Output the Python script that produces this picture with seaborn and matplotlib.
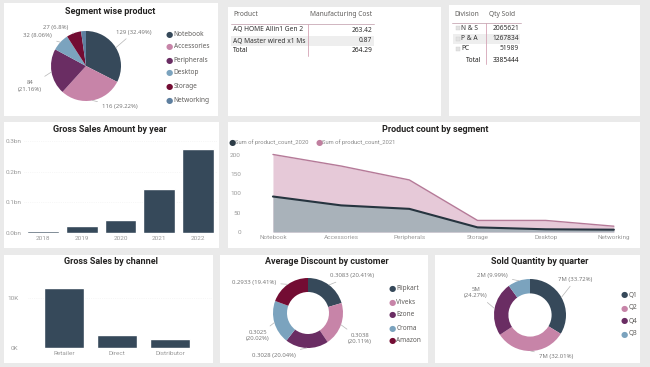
import numpy as np
import seaborn as sns
import matplotlib.pyplot as plt
from matplotlib.patches import Rectangle
from matplotlib.lines import Line2D

# ---- data ----
segments = ['Notebook', 'Accessories', 'Peripherals', 'Desktop', 'Storage', 'Networking']
segment_products = [129, 116, 84, 32, 27, 9]
segment_labels = ['129 (32.49%)', '116 (29.22%)', '84\n(21.16%)', '32 (8.06%)', '27 (6.8%)', '']

cost_products = ['AQ HOME Allin1 Gen 2', 'AQ Master wired x1 Ms']
cost_values = ['263.42', '0.87']
cost_total = '264.29'

divisions = ['N & S', 'P & A', 'PC']
qty_sold = ['2065621', '1267834', '51989']
qty_total = '3385444'

years = ['2018', '2019', '2020', '2021', '2022']
gross_sales_bn = [0.0075, 0.022, 0.041, 0.144, 0.274]

count_segments = ['Notebook', 'Accessories', 'Peripherals', 'Storage', 'Desktop', 'Networking']
count_2020 = [92, 69, 60, 12, 7, 6]
count_2021 = [201, 171, 135, 30, 30, 15]

channels = ['Retailer', 'Direct', 'Distributor']
channel_sales_k = [12.0, 2.6, 1.9]

customers = ['Flipkart', 'Viveks', 'Ezone', 'Croma', 'Amazon']
avg_discount = [0.3083, 0.3038, 0.3028, 0.3025, 0.2933]
discount_labels = ['0.3083 (20.41%)', '0.3038\n(20.11%)', '0.3028 (20.04%)', '0.3025\n(20.02%)', '0.2933 (19.41%)']

quarters = ['Q1', 'Q2', 'Q4', 'Q3']
qty_share = [33.72, 32.01, 24.27, 9.99]
qty_labels = ['7M (33.72%)', '7M (32.01%)', '5M\n(24.27%)', '2M (9.99%)']

# ---- style ----
SLATE, PINK, PURPLE, SKY, WINE, STEEL = '#36495a', '#c784a8', '#6a2d63', '#7ba3be', '#730c33', '#5e7f9f'
pal = [SLATE, PINK, PURPLE, SKY, WINE, STEEL]
TITLE_FONT = ['Liberation Sans Narrow', 'Roboto', 'DejaVu Sans']
BODY_FONT = ['Noto Sans', 'DejaVu Sans']
TICK = '#9a9a9a'

sns.set_theme(style='white')
plt.rcParams['font.family'] = BODY_FONT

W, H = 650, 367
fig = plt.figure(figsize=(6.5, 3.67), dpi=100, facecolor='#eaeaea')


def box(x0, y0, x1, y1):
    return [x0 / W, 1 - y1 / H, (x1 - x0) / W, (y1 - y0) / H]


def fx(x):
    return x / W


def fy(y):
    return 1 - y / H


def txt(x, y, s, **kw):
    kw.setdefault('fontsize', 4.8)
    kw.setdefault('color', '#555555')
    kw.setdefault('va', 'center')
    fig.text(fx(x), fy(y), s, **kw)


def title(x, y, s):
    fig.text(fx(x), fy(y), s, ha='center', va='center', fontsize=6.5,
             fontweight='bold', family=TITLE_FONT, color='#252423')


def hline(x0, x1, y, color):
    fig.add_artist(Line2D([fx(x0), fx(x1)], [fy(y), fy(y)], color=color, lw=0.6))


def vline(x, y0, y1, color):
    fig.add_artist(Line2D([fx(x), fx(x)], [fy(y0), fy(y1)], color=color, lw=0.6))


def dot(x, y, c):
    fig.text(fx(x), fy(y), '\u25cf', color=c, fontsize=6, ha='center', va='center', family='DejaVu Sans')


def legend(x, ys, labels, colors):
    for y, lab, c in zip(ys, labels, colors):
        dot(x, y, c)
        txt(x + 4.5, y, lab, fontsize=4.7, color='#605e5c')


# panel backgrounds
panels = [(4, 3, 218, 116), (228, 7, 441, 116), (449, 5, 640, 116),
          (4, 122, 219, 248), (228, 122, 640, 248),
          (4, 255, 213, 363), (220, 255, 428, 363), (435, 255, 640, 363)]
for x0, y0, x1, y1 in panels:
    fig.add_artist(Rectangle((fx(x0), fy(y1)), (x1 - x0) / W, (y1 - y0) / H,
                             transform=fig.transFigure, facecolor='white', edgecolor='none', zorder=0))


def pie_panel(cx, cy, R, values, colors, labels, pos, has, hole=None):
    S = R * 1.35
    ax = fig.add_axes(box(cx - S, cy - S, cx + S, cy + S))
    wp = dict(linewidth=0)
    if hole:
        wp['width'] = hole
    wedges, _ = ax.pie(values, colors=colors, startangle=90, counterclock=False, wedgeprops=wp)
    lim = S / R
    ax.set_xlim(-lim, lim)
    ax.set_ylim(-lim, lim)
    ax.set_aspect('equal')
    ax.axis('off')
    ax.set_facecolor('none')
    for w, t, (tx, ty), ha in zip(wedges, labels, pos, has):
        if not t:
            continue
        a = np.deg2rad((w.theta1 + w.theta2) / 2)
        ax.annotate(t, xy=(np.cos(a), np.sin(a)), xytext=(tx, ty), ha=ha, va='center',
                    multialignment='center', fontsize=4.3, color='#7a7a7a', linespacing=1.3,
                    annotation_clip=False,
                    arrowprops=dict(arrowstyle='-', color='#b5b5b5', lw=0.5, shrinkA=1, shrinkB=0))
    return ax


# ---- Segment wise product ----
title(110, 12, 'Segment wise product')
pie_panel(86, 66, 35, segment_products, pal, segment_labels,
          [(0.86, 0.97), (0.46, -1.17), (-1.26, -0.57), (-0.97, 0.86), (-0.51, 1.11), (0, 0)],
          ['left', 'left', 'right', 'right', 'right', 'left'])
legend(169, [34, 47, 60, 73, 87, 100], segments, pal)

# ---- Manufacturing cost table ----
txt(233, 15, 'Product', color='#605e5c')
txt(372, 15, 'Manufacturing Cost', ha='right', color='#605e5c')
fig.add_artist(Rectangle((fx(231), fy(46)), 143 / W, 10 / H, transform=fig.transFigure,
                         facecolor='#eeeeee', edgecolor='none', zorder=0.5))
hline(231, 374, 24, '#c9a9b6')
vline(307.5, 24, 56, '#d4a3b5')
for y, p, v in zip([30, 41], cost_products, cost_values):
    txt(233, y, p, color='#333333')
    txt(372, y, v, ha='right', color='#333333')
txt(233, 51, 'Total', fontweight='bold', color='#252423')
txt(372, 51, cost_total, ha='right', fontweight='bold', color='#252423')

# ---- Qty sold table ----
txt(454, 14, 'Division', color='#605e5c')
txt(489, 14, 'Qty Sold', color='#605e5c')
fig.add_artist(Rectangle((fx(453), fy(44)), 67 / W, 10 / H, transform=fig.transFigure,
                         facecolor='#eeeeee', edgecolor='none', zorder=0.5))
hline(452, 521, 22.5, '#c9a9b6')
vline(486, 22.5, 64, '#d4a3b5')
for y, d, q in zip([28, 39, 49], divisions, qty_sold):
    fig.add_artist(Rectangle((fx(456), fy(y + 1.8)), 3.6 / W, 3.6 / H, transform=fig.transFigure,
                             facecolor='#e2e2e2', edgecolor='#cfcfcf', lw=0.3))
    txt(461, y, d, color='#333333')
    txt(519, y, q, ha='right', color='#333333')
txt(466, 60, 'Total', fontweight='bold', color='#252423')
txt(519, 60, qty_total, ha='right', fontweight='bold', color='#252423')


def clean(ax):
    sns.despine(ax=ax, left=True, bottom=True)
    ax.set_xlabel('')
    ax.set_ylabel('')
    ax.set_facecolor('none')
    ax.tick_params(length=0, labelsize=4.6, labelcolor=TICK)
    for lab in ax.get_xticklabels() + ax.get_yticklabels():
        lab.set_family(TITLE_FONT)


# ---- Gross Sales Amount by year ----
title(110, 129, 'Gross Sales Amount by year')
ax = fig.add_axes(box(23.5, 141, 217.5, 233))
sns.barplot(x=years, y=gross_sales_bn, color=SLATE, saturation=1, width=0.82, ax=ax, zorder=2)
ax.set_ylim(0, 0.3)
ax.set_xlim(-0.5, 4.5)
ax.set_yticks([0, 0.1, 0.2, 0.3])
ax.set_yticklabels(['0.0bn', '0.1bn', '0.2bn', '0.3bn'])
ax.grid(axis='y', color='#f0f0f0', lw=0.5, ls=':')
clean(ax)
ax.tick_params(axis='y', pad=1.5)
ax.tick_params(axis='x', pad=2)

# ---- Product count by segment ----
title(435, 129, 'Product count by segment')
dot(232, 142.5, '#2d3c47')
txt(235, 142.5, 'Sum of product_count_2020', fontsize=4.2, color='#8a8a8a', family=TITLE_FONT)
dot(319, 142.5, '#c07f9f')
txt(322, 142.5, 'Sum of product_count_2021', fontsize=4.2, color='#8a8a8a', family=TITLE_FONT)
ax = fig.add_axes(box(245, 151, 635, 232))
xs = np.arange(len(count_segments))
ax.fill_between(xs, count_2021, color='#e6c9d8', lw=0)
ax.fill_between(xs, count_2020, color='#a9b2ba', lw=0)
sns.lineplot(x=xs, y=count_2021, color='#b57a98', lw=1.0, ax=ax)
sns.lineplot(x=xs, y=count_2020, color='#26343f', lw=1.5, ax=ax)
ax.set_xlim(-0.41, 5.31)
ax.set_ylim(0, 210)
ax.set_xticks(xs)
ax.set_xticklabels(count_segments)
ax.set_yticks([0, 50, 100, 150, 200])
clean(ax)
ax.tick_params(axis='y', pad=3)
ax.tick_params(axis='x', pad=2)

# ---- Gross Sales by channel ----
title(111, 261, 'Gross Sales by channel')
ax = fig.add_axes(box(28, 270, 212, 348))
sns.barplot(x=channels, y=channel_sales_k, color=SLATE, saturation=1, width=0.75, ax=ax, zorder=2)
ax.set_xlim(-0.68, 2.79)
ax.set_ylim(0, 15.6)
ax.set_yticks([0, 10])
ax.set_yticklabels(['0K', '10K'])
ax.grid(axis='y', color='#f0f0f0', lw=0.5, ls=':')
clean(ax)
ax.tick_params(axis='y', pad=7)
ax.tick_params(axis='x', pad=2)

# ---- Average Discount by customer ----
title(327, 262, 'Average Discount by customer')
pie_panel(308, 313, 35, avg_discount, [SLATE, PINK, PURPLE, SKY, WINE], discount_labels,
          [(0.62, 1.06), (1.15, -0.74), (-0.35, -1.2), (-1.1, -0.65), (-0.91, 0.88)],
          ['left', 'left', 'right', 'right', 'right'], hole=0.4)
legend(392, [289, 302, 315, 328, 341], customers, [SLATE, PINK, PURPLE, SKY, WINE])

# ---- Sold Quantity by quarter ----
title(540, 262, 'Sold Quantity by quarter')
pie_panel(530, 315, 36, qty_share, [SLATE, PINK, PURPLE, SKY], qty_labels,
          [(0.79, 0.99), (0.25, -1.15), (-1.18, 0.62), (-0.62, 1.1)],
          ['left', 'left', 'right', 'right'], hole=0.4)
legend(624, [295, 308, 321, 334], quarters, [SLATE, PINK, PURPLE, SKY])

fig.savefig('out.png', dpi=100, facecolor=fig.get_facecolor())
